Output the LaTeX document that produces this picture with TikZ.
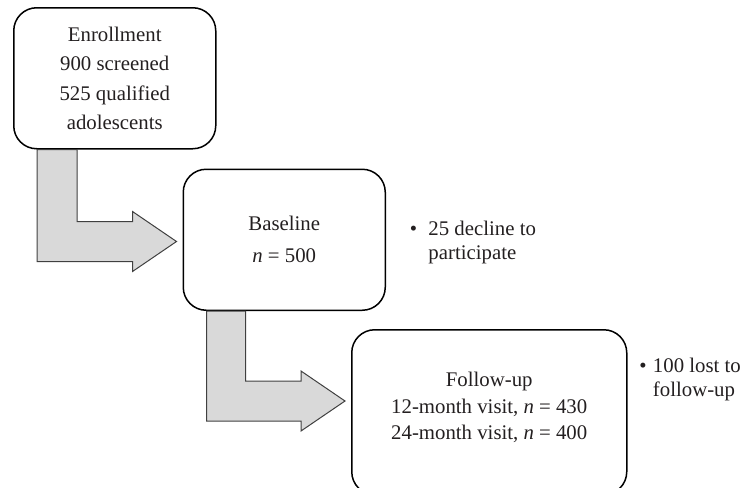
\documentclass[tikz,border=0pt]{standalone}
\usepackage{fontspec}
\setmainfont{Liberation Serif}
\usepackage{xcolor}
\usepackage{tikz}
\usetikzlibrary{positioning, calc}
\definecolor{inkgray}{HTML}{231F20}
\definecolor{arrowfill}{HTML}{D9D9D9}
\tikzset{
  stagebox/.style={rectangle, draw, rounded corners=11.5pt, line width=0.75pt, minimum width=101pt, minimum height=70.5pt, align=center, inner sep=0pt},
  flowarrow/.style={draw=black!75, fill=arrowfill, line width=0.5pt},
  note/.style={inner sep=0pt, align=left},
}
\newcommand{\bulletnote}[3]{\begin{tabular}{@{}l@{\hspace{#1}}l@{}}\textbullet & #2\\ & #3\end{tabular}}

\begin{document}
\begin{tikzpicture}[x=0.5pt, y=-0.5pt, text=inkgray, font=\fontsize{10.4}{12}\selectfont]
  \useasboundingbox (0,0) rectangle (743,487);

  \node[stagebox, anchor=north west, font=\fontsize{10.4}{14.75}\selectfont] (enroll) at (13,7)
    {Enrollment\\900 screened\\525 qualified\\adolescents};
  \node[stagebox, below right=9.5pt and -17pt of enroll, font=\fontsize{10.4}{16}\selectfont] (base)
    {Baseline\\\textit{n} = 500};
  \node[stagebox, below right=9pt and -17.5pt of base, minimum width=137.5pt, minimum height=82.5pt,
    font=\fontsize{10.4}{13.25}\selectfont] (follow)
    {Follow-up\\12-month visit, \textit{n} = 430\\24-month visit, \textit{n} = 400\\[-7pt]\mbox{}};

  \node[note, right=11.7pt of base, yshift=-1.25pt] (declined) {\bulletnote{5.7pt}{25 decline to}{participate}};
  \node[note, below right=13pt and 5.7pt of follow.north east] (lost) {\bulletnote{3.2pt}{100 lost to}{follow-up}};

  % bent block arrows
  \draw[flowarrow] ($(enroll.south west)+(24,0)$) |- ($(base.north west)+(-50,93)$)
    -- ++(0,10) -- ++(44,-30) -- ++(-44,-30) -- ++(0,10) -| ($(enroll.south west)+(64,0)$) -- cycle;
  \draw[flowarrow] ($(base.south west)+(24,0)$) |- ($(follow.north west)+(-50,92)$)
    -- ++(0,10) -- ++(44,-30) -- ++(-44,-30) -- ++(0,10) -| ($(base.south west)+(63,0)$) -- cycle;
\end{tikzpicture}
\end{document}
